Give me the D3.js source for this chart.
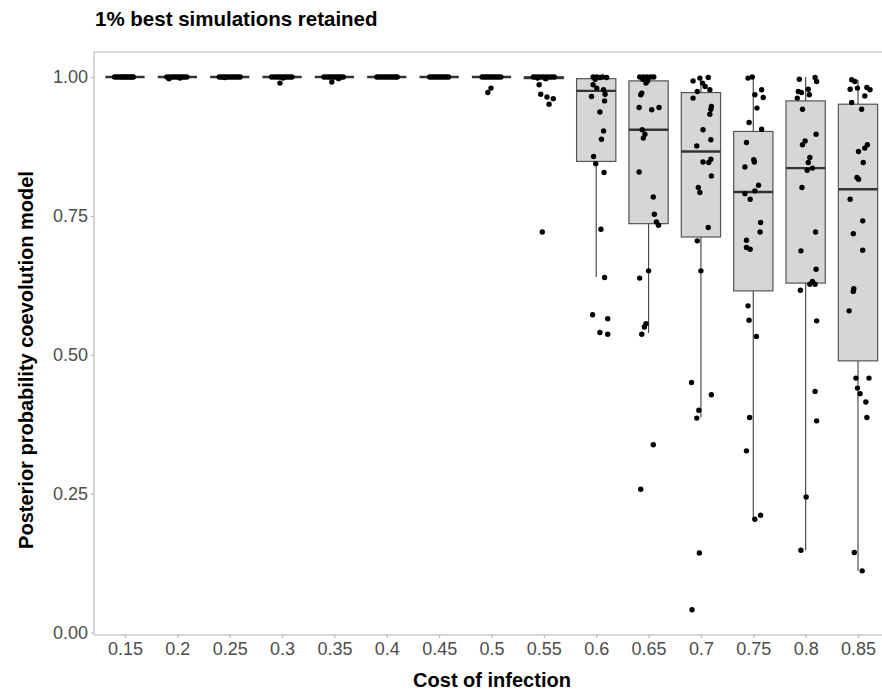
<!DOCTYPE html>
<html>
<head>
<meta charset="utf-8">
<script src="https://cdn.jsdelivr.net/npm/d3@7"></script>
<style>
  html, body { margin: 0; padding: 0; background: #fff; }
  svg { display: block; font-family: "Liberation Sans", Arial, Helvetica, sans-serif; }
</style>
</head>
<body>
<svg id="chart" width="882" height="692"></svg>
<script>
/* Categories on the x axis (cost of infection) */
const categories = ['0.15', '0.2', '0.25', '0.3', '0.35', '0.4', '0.45', '0.5', '0.55',
  '0.6', '0.65', '0.7', '0.75', '0.8', '0.85'];

/* Box statistics, one per category */
const q1 = [1, 1, 1, 1, 1, 1, 1, 1, 0.997, 0.848, 0.736, 0.712, 0.615, 0.629, 0.489];
const medians = [1, 1, 1, 1, 1, 1, 1, 1, 0.999, 0.975, 0.905, 0.866, 0.793, 0.836, 0.798];
const q3 = [1, 1, 1, 1, 1, 1, 1, 1, 1, 0.997, 0.993, 0.972, 0.902, 0.957, 0.951];
const whiskerLow = [1, 1, 1, 1, 1, 1, 1, 1, 0.993, 0.640, 0.539, 0.387, 0.204, 0.148, 0.111];
const whiskerHigh = [1, 1, 1, 1, 1, 1, 1, 1, 1, 1, 1, 1, 1, 1, 0.995];

/* Simulations per category: [posterior probability, jitter offset in category units] */
const sims = [
  [[1, -0.2], [1, -0.16], [1, -0.12], [1, -0.08], [1, -0.05], [1, -0.02], [1, 0.01], [1, 0.04], [1, 0.07], [1, 0.1], [1, 0.13], [1, 0.16]],
  [[1, -0.2], [1, -0.15], [1, -0.1], [1, -0.06], [1, -0.02], [1, 0.02], [1, 0.06], [1, 0.1], [1, 0.14], [1, 0.18], [0.997, -0.16], [0.998, 0.05]],
  [[1, -0.2], [1, -0.16], [1, -0.12], [1, -0.08], [1, -0.04], [1, 0], [1, 0.04], [1, 0.08], [1, 0.12], [1, 0.16], [1, 0.2], [0.999, -0.1]],
  [[1, -0.2], [1, -0.15], [1, -0.1], [1, -0.06], [1, -0.02], [1, 0.03], [1, 0.07], [1, 0.11], [1, 0.15], [1, 0.19], [0.989, -0.04], [0.998, 0.02]],
  [[1, -0.2], [1, -0.15], [1, -0.11], [1, -0.07], [1, -0.03], [1, 0.01], [1, 0.05], [1, 0.09], [1, 0.13], [1, 0.17], [0.991, -0.05], [0.997, 0.08]],
  [[1, -0.19], [1, -0.15], [1, -0.11], [1, -0.07], [1, -0.03], [1, 0.01], [1, 0.05], [1, 0.09], [1, 0.13], [1, 0.17], [1, 0.2]],
  [[1, -0.18], [1, -0.14], [1, -0.1], [1, -0.06], [1, -0.02], [1, 0.02], [1, 0.06], [1, 0.1], [1, 0.14], [1, 0.18]],
  [[1, -0.18], [1, -0.14], [1, -0.1], [1, -0.06], [1, -0.02], [1, 0.02], [1, 0.06], [1, 0.1], [1, 0.14], [1, 0.18], [0.972, -0.07], [0.980, -0.01]],
  [[1, -0.2], [1, -0.15], [1, -0.1], [1, -0.05], [1, 0], [1, 0.05], [1, 0.1], [1, 0.15], [1, 0.2], [0.998, -0.12], [0.997, 0.04],
    [0.986, -0.09], [0.969, -0.06], [0.964, 0.06], [0.961, 0.18], [0.951, 0.1], [0.721, -0.03]],
  [[1, -0.06], [1, 0.01], [0.999, 0.07], [1, 0.12], [0.999, 0.2], [0.996, -0.02], [0.986, -0.06], [0.980, 0.01],
    [0.977, 0.14], [0.969, 0.17], [0.965, -0.09], [0.957, 0.16], [0.937, 0.07], [0.903, 0.14], [0.888, 0.1],
    [0.857, -0.05], [0.844, -0.01], [0.828, 0.15], [0.726, 0.09], [0.639, 0.16], [0.572, -0.07], [0.565, 0.22],
    [0.540, 0.07], [0.537, 0.22]],
  [[1, -0.17], [1, -0.1], [1, -0.03], [1, 0.04], [1, 0.1], [0.996, -0.11], [0.989, -0.05], [0.993, -0.02],
    [0.971, -0.13], [0.968, -0.15], [0.945, -0.18], [0.941, 0.06], [0.945, 0.2], [0.905, -0.12], [0.897, -0.07],
    [0.890, -0.1], [0.829, -0.18], [0.784, 0.09], [0.753, 0.11], [0.739, 0.15], [0.733, 0.19], [0.651, 0],
    [0.638, -0.17], [0.556, -0.05], [0.550, -0.08], [0.537, -0.13], [0.338, 0.09], [0.258, -0.15]],
  [[0.993, -0.15], [0.998, -0.02], [0.999, 0.14], [0.989, 0.03], [0.983, 0.08], [0.974, -0.07], [0.977, 0.17],
    [0.962, -0.15], [0.947, 0.2], [0.942, 0.19], [0.933, 0.17], [0.905, 0.04], [0.887, 0.19], [0.876, -0.08],
    [0.847, 0.04], [0.846, 0.15], [0.852, 0.19], [0.822, 0.2], [0.801, -0.05], [0.792, -0.02], [0.729, 0.14],
    [0.705, -0.07], [0.651, 0], [0.450, -0.18], [0.428, 0.2], [0.400, -0.04], [0.386, -0.08], [0.143, -0.03],
    [0.041, -0.17]],
  [[0.998, -0.1], [1, -0.02], [0.968, 0.03], [0.977, 0.16], [0.963, 0.19], [0.944, 0.07], [0.918, -0.08],
    [0.906, 0.16], [0.882, -0.13], [0.851, 0.01], [0.847, 0.02], [0.838, -0.16], [0.805, 0.1], [0.795, 0.03],
    [0.790, -0.16], [0.780, -0.06], [0.738, 0.14], [0.721, 0.13], [0.706, -0.13], [0.693, -0.13], [0.690, -0.06],
    [0.588, -0.1], [0.562, -0.08], [0.533, 0.06], [0.387, -0.07], [0.327, -0.13], [0.204, 0.03], [0.211, 0.14]],
  [[0.996, -0.12], [0.999, 0.18], [0.992, 0.21], [0.974, -0.14], [0.972, -0.08], [0.978, 0.05], [0.962, -0.16],
    [0.968, 0.07], [0.942, -0.06], [0.897, 0.2], [0.885, -0.01], [0.878, -0.06], [0.855, 0.08], [0.846, 0.05],
    [0.832, 0.03], [0.836, 0.13], [0.801, -0.07], [0.721, 0.19], [0.687, -0.09], [0.654, 0.2], [0.632, 0.13],
    [0.627, 0.08], [0.627, 0.18], [0.616, -0.1], [0.561, 0.21], [0.434, 0.18], [0.381, 0.21], [0.244, 0.01],
    [0.148, -0.09]],
  [[0.995, -0.12], [0.992, -0.06], [0.978, -0.15], [0.980, -0.01], [0.981, 0.17], [0.977, 0.23], [0.966, 0.13],
    [0.954, -0.12], [0.942, 0.07], [0.866, 0.01], [0.872, 0.13], [0.878, 0.18], [0.846, 0.1], [0.819, -0.02],
    [0.816, 0.01], [0.780, -0.15], [0.741, 0.09], [0.718, -0.09], [0.688, 0.09], [0.619, -0.08], [0.614, -0.09],
    [0.579, -0.17], [0.458, -0.04], [0.458, 0.21], [0.440, -0.01], [0.430, 0.04], [0.415, 0.15], [0.387, 0.17],
    [0.144, -0.07], [0.111, 0.08]],
];

const yTicks = [0, 0.25, 0.5, 0.75, 1];

/* frame settings */
const width = 882;
const height = 692;
const panel = { left: 94, top: 52, bottom: 635, right: 890 };

const svg = d3.select('#chart');

const x = d3.scalePoint().domain(categories).range([125, 858]);
const step = x.step();
const boxW = step * 0.75;
const y = d3.scaleLinear().domain([0, 1]).range([632.5, 77]);

const rows = categories.map((c, i) => ({
  cat: c, q1: q1[i], med: medians[i], q3: q3[i], lo: whiskerLow[i], hi: whiskerHigh[i],
}));

/* panel frame: left, bottom and top lines */
const axisGrey = '#b3b3b3';
svg.append('line')
  .attr('x1', panel.left).attr('x2', panel.right)
  .attr('y1', panel.top).attr('y2', panel.top)
  .attr('stroke', axisGrey).attr('stroke-width', 1.1);

/* Y axis */
const yAxis = d3.axisLeft(y).tickValues(yTicks).tickFormat(d3.format('.2f')).tickSize(3).tickPadding(3);
const gy = svg.append('g').attr('transform', `translate(${panel.left},0)`).call(yAxis);
gy.select('.domain').remove();
gy.append('line')
  .attr('x1', 0).attr('x2', 0).attr('y1', panel.top).attr('y2', panel.bottom)
  .attr('stroke', axisGrey).attr('stroke-width', 1.1);

/* X axis */
const xAxis = d3.axisBottom(x).tickSize(3).tickPadding(4.5);
const gx = svg.append('g').attr('transform', `translate(0,${panel.bottom})`).call(xAxis);
gx.select('.domain').remove();
gx.append('line')
  .attr('x1', panel.left).attr('x2', panel.right).attr('y1', 0).attr('y2', 0)
  .attr('stroke', axisGrey).attr('stroke-width', 1.1);

[gx, gy].forEach(g => {
  g.selectAll('.tick line').attr('stroke', axisGrey).attr('stroke-width', 1.1);
  g.selectAll('.tick text')
    .attr('fill', '#4d4d4d')
    .style('font-size', '18px')
    .style('font-family', '"Liberation Sans", Arial, Helvetica, sans-serif');
});

/* Boxplots */
const boxes = svg.append('g').selectAll('g').data(rows).enter().append('g');

boxes.append('line')
  .attr('x1', d => x(d.cat)).attr('x2', d => x(d.cat))
  .attr('y1', d => y(d.hi)).attr('y2', d => y(d.q3))
  .attr('stroke', '#4d4d4d').attr('stroke-width', 1.2);
boxes.append('line')
  .attr('x1', d => x(d.cat)).attr('x2', d => x(d.cat))
  .attr('y1', d => y(d.q1)).attr('y2', d => y(d.lo))
  .attr('stroke', '#4d4d4d').attr('stroke-width', 1.2);

boxes.append('rect')
  .attr('x', d => x(d.cat) - boxW / 2)
  .attr('width', boxW)
  .attr('y', d => y(d.q3))
  .attr('height', d => Math.max(0, y(d.q1) - y(d.q3)))
  .attr('fill', '#d6d6d6')
  .attr('stroke', '#555')
  .attr('stroke-width', 1.2);

boxes.append('line')
  .attr('x1', d => x(d.cat) - boxW / 2).attr('x2', d => x(d.cat) + boxW / 2)
  .attr('y1', d => y(d.med)).attr('y2', d => y(d.med))
  .attr('stroke', '#333').attr('stroke-width', 2.4);

/* Jittered simulations */
const pts = categories.flatMap((c, i) => sims[i].map(p => ({ cat: c, v: p[0], j: p[1] })));
svg.append('g').selectAll('circle')
  .data(pts)
  .enter()
  .append('circle')
  .attr('cx', d => x(d.cat) + d.j * step)
  .attr('cy', d => y(d.v))
  .attr('r', 2.7)
  .attr('fill', '#000');

/* Titles */
svg.append('text')
  .attr('x', 95).attr('y', 26)
  .attr('font-size', 20.5).attr('font-weight', 'bold').attr('fill', '#000')
  .text('1% best simulations retained');

svg.append('text')
  .attr('x', (panel.left + panel.right) / 2).attr('y', 687)
  .attr('text-anchor', 'middle')
  .attr('font-size', 20).attr('font-weight', 'bold').attr('fill', '#000')
  .text('Cost of infection');

svg.append('text')
  .attr('transform', 'translate(33,360) rotate(-90)')
  .attr('text-anchor', 'middle')
  .attr('font-size', 20).attr('font-weight', 'bold').attr('fill', '#000')
  .text('Posterior probability coevolution model');
</script>
</body>
</html>
